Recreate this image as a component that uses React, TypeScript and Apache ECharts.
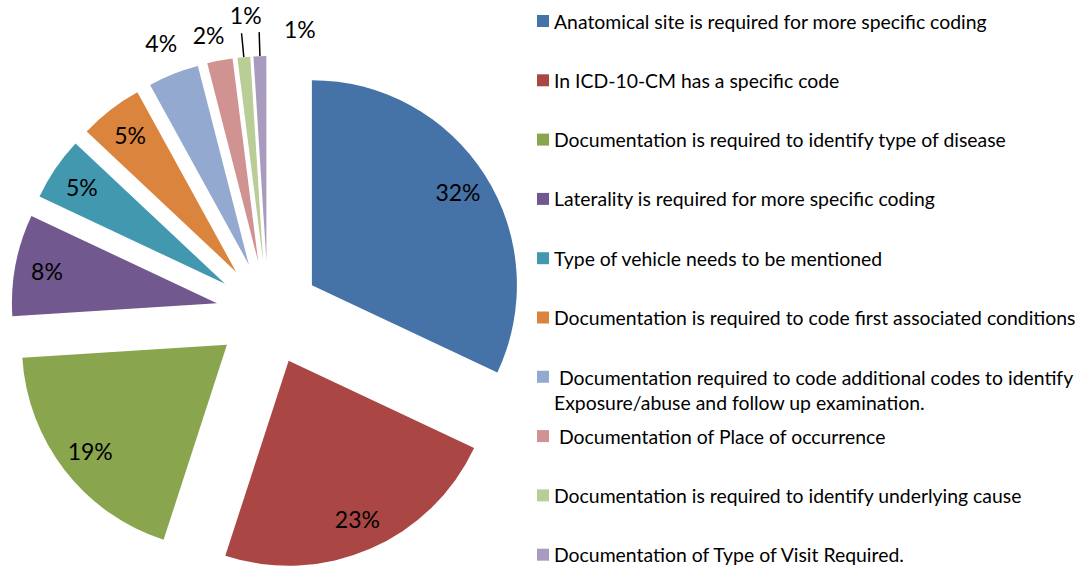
import React, { useEffect, useRef } from 'react';
import * as echarts from 'echarts';

const categories = [
  'Anatomical site is required for more specific coding',
  'In ICD-10-CM has a specific code',
  'Documentation is required to identify type of disease',
  'Laterality is required for more specific coding',
  'Type of vehicle needs to be mentioned',
  'Documentation is required to code first associated conditions',
  ' Documentation required to code additional codes to identify\nExposure/abuse and follow up examination.',
  ' Documentation of Place of occurrence',
  'Documentation is required to identify underlying cause',
  'Documentation of Type of Visit Required.',
];
const values = [32, 23, 19, 8, 5, 5, 4, 2, 1, 1];
const colors = [
  '#4572A7', '#AA4643', '#89A54E', '#71588F', '#4198AF',
  '#DB843D', '#93A9CF', '#D19392', '#B9CD96', '#A99BBD',
];
const insideLabelIdx = [0, 1, 2, 3, 4, 5];
const outsideLabelIdx = [6, 7, 8, 9];
const leaderIdx = [8, 9];

const FONT = 'Lato, "Open Sans", sans-serif';
const CENTER = [268, 313];
const R = 205;
const OFFSET = 52;

export default function App() {
  const ref = useRef<HTMLDivElement>(null);
  useEffect(() => {
    if (!ref.current) return;
    const chart = echarts.init(ref.current, undefined, { renderer: 'svg' });

    const common = {
      type: 'pie',
      center: CENTER,
      startAngle: 90,
      clockwise: true,
      selectedMode: 'multiple',
      selectedOffset: OFFSET,
      avoidLabelOverlap: false,
      emphasis: { disabled: true },
      select: { itemStyle: { borderWidth: 0 } },
    };

    const mainData = categories.map((name, i) => ({
      name,
      value: values[i],
      selected: true,
      itemStyle: { color: colors[i], borderWidth: 0 },
      label: leaderIdx.includes(i)
        ? { show: true, position: 'outside', formatter: ' ' }
        : { show: false },
      labelLine: leaderIdx.includes(i)
        ? { show: true, length: 24, length2: 0, lineStyle: { color: '#000', width: 1.5 } }
        : { show: false },
    }));

    const overlayData = (idx: number[]) =>
      categories.map((name, i) => ({
        name,
        value: values[i],
        selected: true,
        itemStyle: { color: 'rgba(0,0,0,0)', borderWidth: 0 },
        label: { show: idx.includes(i) },
      }));

    const labelStyle = {
      position: 'inside',
      formatter: '{c}%',
      color: '#000',
      fontSize: 23,
      fontFamily: FONT,
    };

    const legendCommon = {
      orient: 'vertical',
      left: 537,
      padding: 0,
      height: 200,
      itemWidth: 12,
      itemHeight: 12,
      itemGap: 34.3,
      icon: 'rect',
      selectedMode: false,
      textStyle: { fontFamily: FONT, fontSize: 19.4, color: '#000', lineHeight: 25 },
    };

    chart.setOption({
      animation: false,
      backgroundColor: '#fff',
      legend: [
        { ...legendCommon, top: 8.5, height: 400, data: categories.slice(0, 6) },
        {
          ...legendCommon,
          top: 364.8,
          itemHeight: 38,
          icon: 'path://M0,0H12V12H0Z M0,38H12',
          data: categories.slice(6, 7),
        },
        { ...legendCommon, top: 423.6, data: categories.slice(7, 10) },
      ],
      series: [
        {
          ...common,
          radius: [0, R],
          data: mainData,
        },
        {
          ...common,
          silent: true,
          radius: [135, R],
          label: labelStyle,
          labelLine: { show: false },
          data: overlayData(insideLabelIdx),
        },
        {
          ...common,
          silent: true,
          radius: [R, 265],
          label: labelStyle,
          labelLine: { show: false },
          labelLayout: (p: any) => {
            if (p.dataIndex === 7) return { dx: -5, dy: 7 };
            if (p.dataIndex === 8) return { dx: 5, dy: -9 };
            if (p.dataIndex === 9) return { dx: 41, dy: 6 };
            return {};
          },
          data: overlayData(outsideLabelIdx),
        },
      ],
    } as any);
    return () => chart.dispose();
  }, []);
  return (
    <div
      ref={ref}
      style={{ position: 'fixed', left: 0, top: 0, width: 1088, height: 567, background: '#fff' }}
    />
  );
}
